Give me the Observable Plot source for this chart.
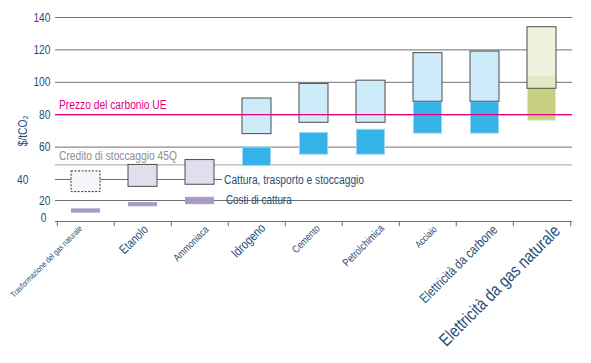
<!DOCTYPE html>
<html>
<head>
<meta charset="utf-8">
<script src="https://cdn.jsdelivr.net/npm/d3@7"></script>
<script src="https://cdn.jsdelivr.net/npm/@observablehq/plot@0.6"></script>
<style>
  html, body { margin: 0; padding: 0; background: #fff; }
  #chart svg { display: block; }
</style>
</head>
<body>
<div id="chart"></div>
<script>
// ---- data ----
const categories = [
  "Trasformazione del gas naturale", "Etanolo", "Ammoniaca", "Idrogeno", "Cemento",
  "Petrolchimica", "Acciaio", "Elettricità da carbone", "Elettricità da gas naturale"
];
// capture cost range ($/tCO2)
const captureLow  = [8, 14, 16, 48, 55, 55, 68, 68, 76];
const captureHigh = [12, 18, 23, 60, 69, 71, 88, 88, 104];
// capture, transport and storage range ($/tCO2)
const ctsLow  = [28, 33, 35, 68, 75, 75, 88, 88, 96];
const ctsHigh = [45, 49, 52, 90, 99, 101, 118, 119, 134];
const euCarbonPrice = 80;
const credit45Q = 49;
const yTicks = [0, 20, 40, 60, 80, 100, 120, 140];

// ---- styles ----
const FONT = "'Liberation Sans', Arial, sans-serif";
const NARROW = 0.82; // horizontal condensation to mimic a narrow face
const TEXT = "#1f4e79";
const GRID = "#6e6e6e";
const captureColors = ["#a999cb", "#a999cb", "#a999cb", "#35b2e8", "#35b2e8", "#35b2e8", "#35b2e8", "#35b2e8", "#c7cf82"];
const captureEdges  = ["#a999cb", "#a999cb", "#a999cb", "#9ad8f3", "#9ad8f3", "#9ad8f3", "#9ad8f3", "#9ad8f3", "#e6e9c8"];
const boxColors = ["#f3f1f8", "#dbd6e9", "#dbd6e9", "#c1e6f6", "#c1e6f6", "#c1e6f6", "#c1e6f6", "#c1e6f6", "#ebedd4"];
const labelSizes = [8.3, 12.5, 10.4, 13, 10.4, 10.9, 9.9, 13.5, 17.6];
const labelShiftX = [-7.5, -0.4, 4.1, 2.7, 1.5, 8.4, 4.4, 6.6, 10.4];
const labelShiftY = [3.5, 2.5, 3.5, 0.8, 2.5, 2.1, 3.6, 2.3, 1.8];

const rows = categories.map((c, i) => ({
  cat: c, capLo: captureLow[i], capHi: captureHigh[i], ctsLo: ctsLow[i], ctsHi: ctsHigh[i],
  capFill: captureColors[i], capEdge: captureEdges[i], boxFill: boxColors[i], i
}));
const step = 517 / categories.length;

const chart = Plot.plot({
  width: 591,
  height: 363,
  marginLeft: 55,
  marginRight: 19,
  marginTop: 17,
  marginBottom: 142,
  style: { fontFamily: FONT, background: "white", overflow: "visible" },
  x: { domain: categories, paddingInner: 0.5, paddingOuter: 0.25, axis: null },
  y: { type: "linear", domain: [0, 20, 40, 140], range: [221, 200, 179, 17], axis: null },
  marks: [
    // gridlines
    Plot.ruleY(yTicks.filter(t => t >= 60 || t === 20), { stroke: GRID, strokeWidth: 1 }),
    Plot.ruleY([40], { stroke: GRID, strokeWidth: 1, insetRight: 350 }),
    Plot.ruleY([0], { stroke: GRID, strokeWidth: 1.2 }),
    // band boundary ticks on x axis
    Plot.ruleX(categories, { x: d => d, y1: 0, y2: -5, dx: -step / 2, stroke: GRID }),
    Plot.ruleX([categories[categories.length - 1]], { x: d => d, y1: 0, y2: -5, dx: step / 2, stroke: GRID }),
    // 45Q credit
    Plot.ruleY([credit45Q], { stroke: "#a3a3a3", strokeWidth: 1 }),
    Plot.text(["Credito di stoccaggio 45Q"], { x: () => categories[0], y: () => credit45Q, dx: -27, dy: -9, textAnchor: "start", fill: "#8e8e8e", fontSize: 12.5 }),
    // white backing for boxes
    Plot.rectY(rows, { x: "cat", y1: "ctsLo", y2: "ctsHi", fill: "white" }),
    // capture cost bars
    Plot.rectY(rows, { x: "cat", y1: "capLo", y2: "capHi", fill: "capFill", stroke: "capEdge", strokeWidth: 1, inset: 0.5 }),
    // capture, transport, storage boxes
    Plot.rectY(rows.filter(d => d.i === 0), { x: "cat", y1: "ctsLo", y2: "ctsHi", fill: "boxFill", fillOpacity: 0.8, stroke: "#333", strokeDasharray: "2,1.5", strokeWidth: 1 }),
    Plot.rectY(rows.filter(d => d.i > 0), { x: "cat", y1: "ctsLo", y2: "ctsHi", fill: "boxFill", fillOpacity: 0.8, stroke: "#4d4d4d", strokeWidth: 1 }),
    // EU carbon price
    Plot.ruleY([euCarbonPrice], { stroke: "#e6007e", strokeWidth: 1.3 }),
    Plot.text(["Prezzo del carbonio UE"], { x: () => categories[0], y: () => euCarbonPrice, dx: -27, dy: -10, textAnchor: "start", fill: "#e6007e", fontSize: 12.5 }),
    // legend-like annotations
    Plot.text(["Cattura, trasporto e stoccaggio"], { x: () => categories[2], y: () => 40, dx: 24, textAnchor: "start", fill: TEXT, fontSize: 12.5 }),
    Plot.text(["Costi di cattura"], { x: () => categories[2], y: () => 20, dx: 26, textAnchor: "start", fill: TEXT, fontSize: 12 }),
    // y tick labels
    Plot.text(yTicks.filter(t => t !== 40 && t !== 0), { y: d => d, frameAnchor: "left", dx: -5, textAnchor: "end", fill: TEXT, fontSize: 12.5, text: d => String(d) }),
    Plot.text([40], { y: d => d, frameAnchor: "left", dx: -27, textAnchor: "end", fill: TEXT, fontSize: 12.5, text: d => String(d) }),
    Plot.text([0], { y: d => d, frameAnchor: "left", dx: -9, dy: -4, textAnchor: "end", fill: TEXT, fontSize: 12.5, text: d => String(d) }),
    // y label
    Plot.text(["$/tCO₂"], { y: () => 70, frameAnchor: "left", textAnchor: "middle", dx: -33, rotate: -90, fill: TEXT, fontSize: 12.5 }),
    // x labels (one mark per label so each can carry its own offset)
    ...rows.map((r, i) => Plot.text([r], {
      x: "cat", text: "cat", frameAnchor: "bottom", rotate: -45, textAnchor: "end", lineAnchor: "top",
      dx: labelShiftX[i], dy: labelShiftY[i], fill: TEXT, fontSize: labelSizes[i]
    }))
  ]
});

// condense every text horizontally (along its own baseline) around its anchor
chart.querySelectorAll("text").forEach(t => {
  let tr = t.getAttribute("transform");
  if (!tr) {
    const x = +(t.getAttribute("x") || 0), y = +(t.getAttribute("y") || 0);
    t.removeAttribute("x"); t.removeAttribute("y");
    tr = `translate(${x},${y})`;
  }
  t.setAttribute("transform", `${tr} scale(${NARROW},1)`);
});
document.getElementById("chart").appendChild(chart);
</script>
</body>
</html>
